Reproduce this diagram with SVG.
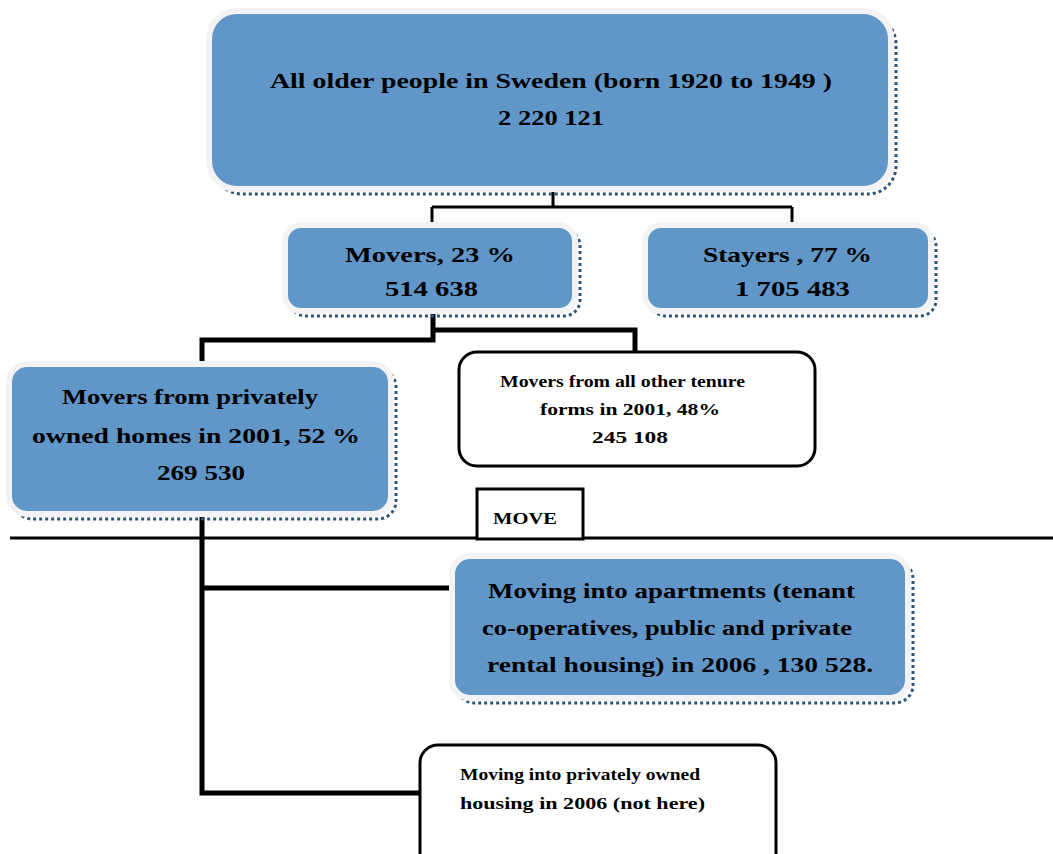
<svg xmlns="http://www.w3.org/2000/svg" width="1053" height="854" viewBox="0 0 1053 854">
<style>
.blue{fill:#6096C8;stroke:#F3F3F5;stroke-width:6}
.shadow{fill:none;stroke:#2F5478;stroke-width:3;stroke-dasharray:3 3}
.white{fill:#fff;stroke:#000;stroke-width:3}
.t{font-family:"Liberation Serif",serif;font-size:22px;font-weight:bold;fill:#000}
.s{font-family:"Liberation Serif",serif;font-size:16px;font-weight:bold;fill:#000}
.c{fill:none;stroke:#000;stroke-linejoin:miter}
</style>
<rect width="1053" height="854" fill="#fff"/>
<g id="connectors">
<path class="c" stroke-width="3" d="M553 190V207M432 207H792M432 207V226M792 207V226"/>
<path class="c" stroke-width="5" d="M433 313V340H202V367M433 330H635V352"/>
<path class="c" stroke-width="5" d="M202 515V793H420M202 588H452"/>
<path class="c" stroke-width="3" d="M10 538H1053"/>
</g>
<g id="n_all">
<rect class="shadow" x="214" y="16" width="682" height="178" rx="28"/>
<rect class="blue" x="209" y="11" width="682" height="178" rx="28"/>
<text class="t" x="270" y="88" textLength="562" lengthAdjust="spacingAndGlyphs">All older people in Sweden (born 1920 to 1949  )</text>
<text class="t" x="498" y="125" textLength="106" lengthAdjust="spacingAndGlyphs">2 220 121</text>
</g>
<g id="n_movers">
<rect class="shadow" x="290" y="230" width="290" height="86" rx="16"/>
<rect class="blue" x="285" y="225" width="290" height="86" rx="16"/>
<text class="t" x="345" y="262" textLength="170" lengthAdjust="spacingAndGlyphs">Movers, 23 %</text>
<text class="t" x="385" y="296" textLength="93" lengthAdjust="spacingAndGlyphs">514 638</text>
</g>
<g id="n_stayers">
<rect class="shadow" x="650" y="230" width="286" height="86" rx="16"/>
<rect class="blue" x="645" y="225" width="286" height="86" rx="16"/>
<text class="t" x="703" y="262" textLength="169" lengthAdjust="spacingAndGlyphs">Stayers , 77 %</text>
<text class="t" x="735" y="296" textLength="115" lengthAdjust="spacingAndGlyphs">1 705 483</text>
</g>
<g id="n_private">
<rect class="shadow" x="14" y="369" width="382" height="150" rx="18"/>
<rect class="blue" x="9" y="364" width="382" height="150" rx="18"/>
<text class="t" x="62" y="404" textLength="256" lengthAdjust="spacingAndGlyphs">Movers from privately</text>
<text class="t" x="32" y="443" textLength="328" lengthAdjust="spacingAndGlyphs">owned homes in 2001,  52 %</text>
<text class="t" x="157" y="480" textLength="88" lengthAdjust="spacingAndGlyphs">269 530</text>
</g>
<g id="n_other">
<rect class="white" x="459" y="352" width="356" height="114" rx="18"/>
<text class="s" x="500" y="387" textLength="245" lengthAdjust="spacingAndGlyphs">Movers from all other tenure</text>
<text class="s" x="540" y="415" textLength="180" lengthAdjust="spacingAndGlyphs">forms in  2001, 48%</text>
<text class="s" x="592" y="443" textLength="76" lengthAdjust="spacingAndGlyphs">245 108</text>
</g>
<g id="n_move">
<rect class="white" x="477" y="489" width="106" height="50"/>
<text class="s" x="493" y="524" textLength="64" lengthAdjust="spacingAndGlyphs">MOVE</text>
</g>
<g id="n_apartments">
<rect class="shadow" x="457" y="561" width="456" height="142" rx="18"/>
<rect class="blue" x="452" y="556" width="456" height="142" rx="18"/>
<text class="t" x="488" y="598" textLength="367" lengthAdjust="spacingAndGlyphs">Moving into apartments (tenant</text>
<text class="t" x="482" y="635" textLength="370" lengthAdjust="spacingAndGlyphs">co-operatives, public and private</text>
<text class="t" x="487" y="672" textLength="386" lengthAdjust="spacingAndGlyphs">rental housing) in 2006  , 130 528.</text>
</g>
<g id="n_owned">
<rect class="white" x="420" y="745" width="356" height="130" rx="18"/>
<text class="s" x="460" y="780" textLength="240" lengthAdjust="spacingAndGlyphs">Moving into privately owned</text>
<text class="s" x="460" y="809" textLength="245" lengthAdjust="spacingAndGlyphs">housing in 2006 (not here)</text>
</g>
</svg>
